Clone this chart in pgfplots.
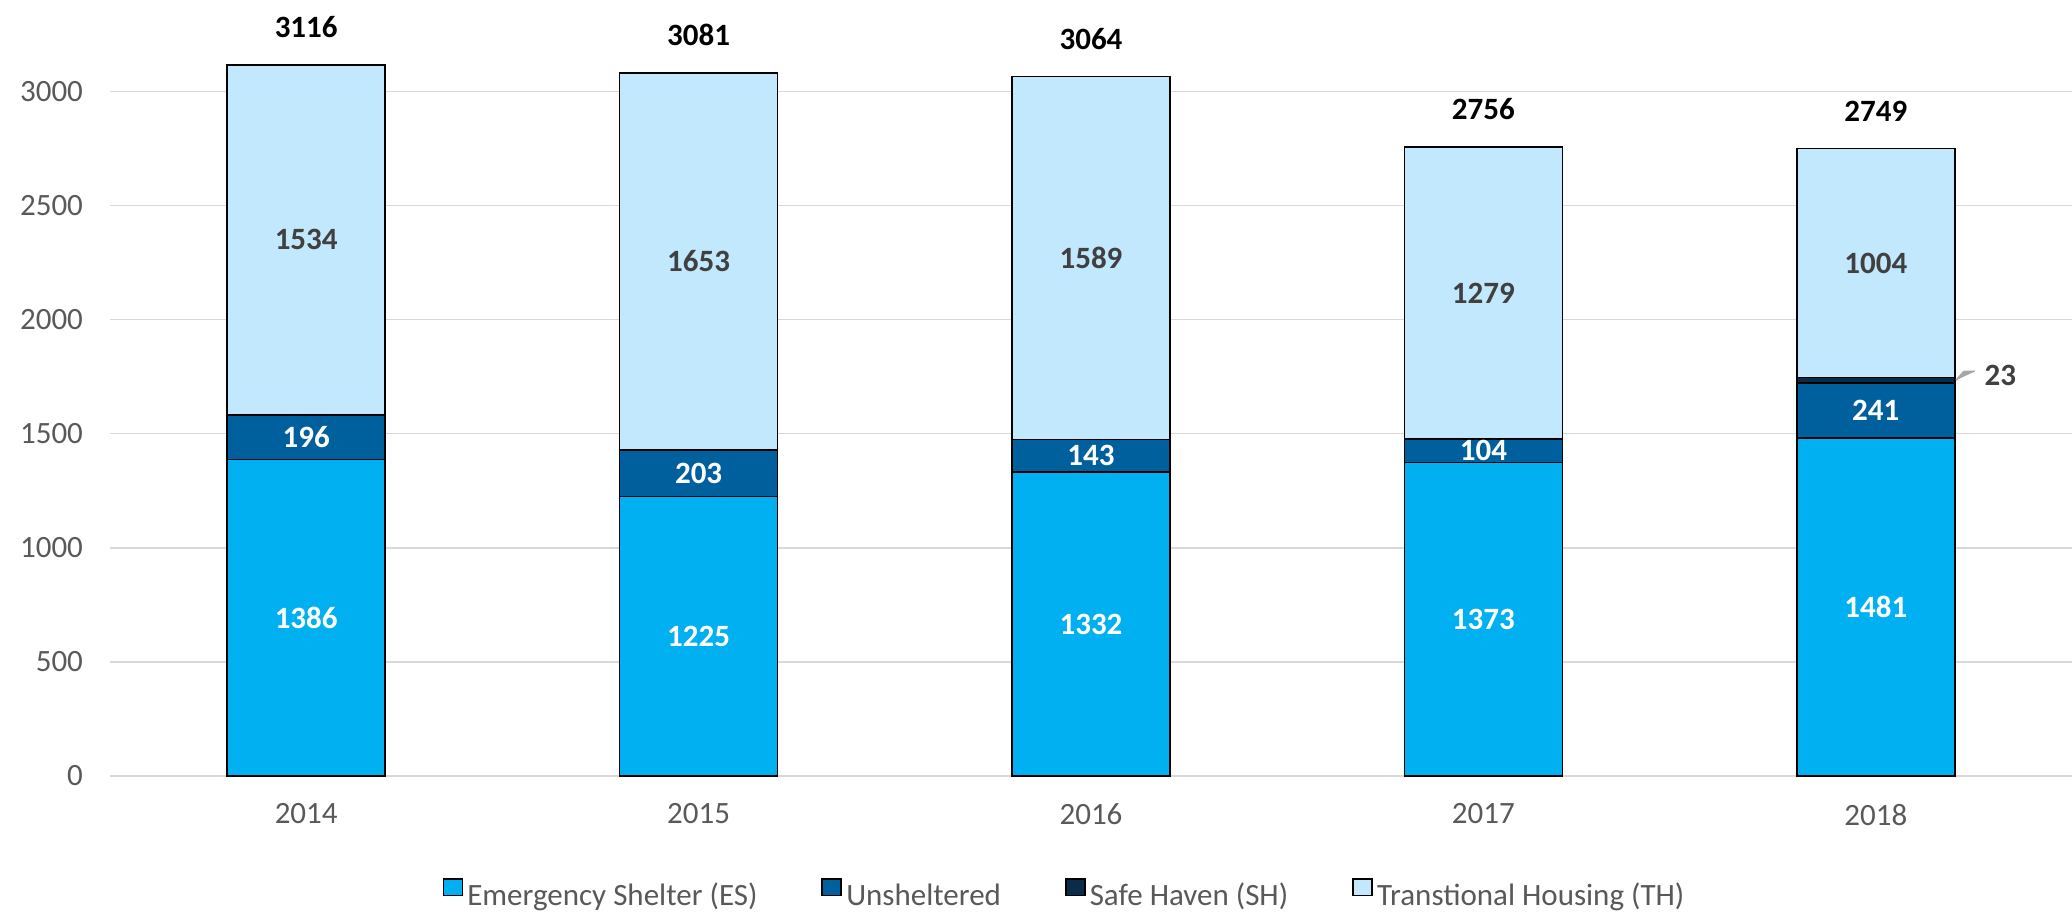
\documentclass[border=0pt]{standalone}
\usepackage{fontspec}
\setmainfont{Carlito}
\usepackage{pgfplots}
\pgfplotsset{compat=1.18}
\usepackage{pgfplotstable}
\definecolor{esc}{HTML}{00B0F0}
\definecolor{unc}{HTML}{00609E}
\definecolor{shc}{HTML}{0A2C48}
\definecolor{thc}{HTML}{C1E8FC}
\definecolor{tickgray}{HTML}{595959}
\definecolor{labgray}{HTML}{404040}
\definecolor{gridc}{HTML}{D9D9D9}

\pgfplotstableread{
x es un sh th zero total shl
0 1386 196 0 1534 0 3116 none
1 1225 203 0 1653 0 3081 none
2 1332 143 0 1589 0 3064 none
3 1373 104 0 1279 0 2756 none
4 1481 241 23 1004 0 2749 23
}\datatable

\ExplSyntaxOn
\NewDocumentCommand\shlabel{m}{\str_if_eq:eeF{#1}{none}{\tikz[baseline=0pt]\draw[gray!70,line~width=0.75pt](0pt,2.5pt)--(4pt,7pt)--(9.5pt,7pt);\hspace{4.5pt}#1}}
\ExplSyntaxOff

\newcommand\lblfont{\fontsize{15.5}{18}\selectfont\bfseries}
\pgfkeys{/pgf/number format/set thousands separator={}}

\pgfplotsset{common/.style={
  scale only axis,
  width=981pt, height=388pt,
  bar width=79pt,
  xmin=-0.5, xmax=4.5,
  ymin=0, ymax=3400,
  /pgf/number format/set thousands separator={},
  /pgf/number format/assume math mode=true,
}}

\begin{document}
\begin{tikzpicture}
\begin{axis}[
  common,
  ybar stacked,
  xtick={0,1,2,3,4},
  xticklabels={2014,2015,2016,2017,2018},
  ytick={0,500,1000,1500,2000,2500,3000},
  ymajorgrids,
  grid style={gridc, line width=0.75pt},
  axis line style={draw=none},
  major tick style={draw=none},
  tick label style={font=\fontsize{15.5}{18}\selectfont, text=tickgray},
  xticklabel style={yshift=-10.4pt},
  yticklabel style={xshift=-10pt},
  legend columns=4,
  legend style={at={(0.487,-0.154)}, anchor=center, draw=none,
    font=\fontsize{15.5}{18}\selectfont, text=tickgray,
    nodes={inner xsep=2pt},
    /tikz/every odd column/.append style={column sep=0pt},
    /tikz/every even column/.append style={column sep=30pt}},
  legend image code/.code={\draw[#1,draw=black,line width=0.9pt] (0pt,0.3pt) rectangle (9.5pt,8.5pt);},
]
\addplot[fill=esc, draw=black, line width=0.75pt,
  nodes near coords, point meta=explicit,
  every node near coord/.append style={anchor=center, text=white, font=\lblfont}]
  table[x=x, y=es, meta=es]{\datatable};
\addplot[fill=unc, draw=black, line width=0.75pt,
  nodes near coords, point meta=explicit,
  every node near coord/.append style={anchor=center, text=white, font=\lblfont}]
  table[x=x, y=un, meta=un]{\datatable};
\addplot[fill=shc, draw=black, line width=0.75pt,
  nodes near coords={\shlabel{\pgfplotspointmeta}}, point meta=explicit symbolic,
  every node near coord/.append style={anchor=base west, inner sep=0pt, xshift=39.5pt, yshift=-2.5pt, text=labgray, font=\lblfont}]
  table[x=x, y=sh, meta=shl]{\datatable};
\addplot[fill=thc, draw=black, line width=0.75pt,
  nodes near coords, point meta=explicit,
  every node near coord/.append style={anchor=center, text=labgray, font=\lblfont}]
  table[x=x, y=th, meta=th]{\datatable};
\legend{Emergency Shelter (ES), Unsheltered, Safe Haven (SH), Transtional Housing (TH)}
\end{axis}
\begin{axis}[
  common,
  ybar,
  hide axis,
]
\addplot[draw=none, fill=none,
  nodes near coords, point meta=explicit,
  every node near coord/.append style={anchor=south, yshift=10pt, text=black, font=\lblfont}]
  table[x=x, y=total, meta=total]{\datatable};
\end{axis}
\pgfresetboundingbox
\path[use as bounding box] (-55pt,-67.5pt) rectangle (981pt,388pt);
\end{tikzpicture}
\end{document}
